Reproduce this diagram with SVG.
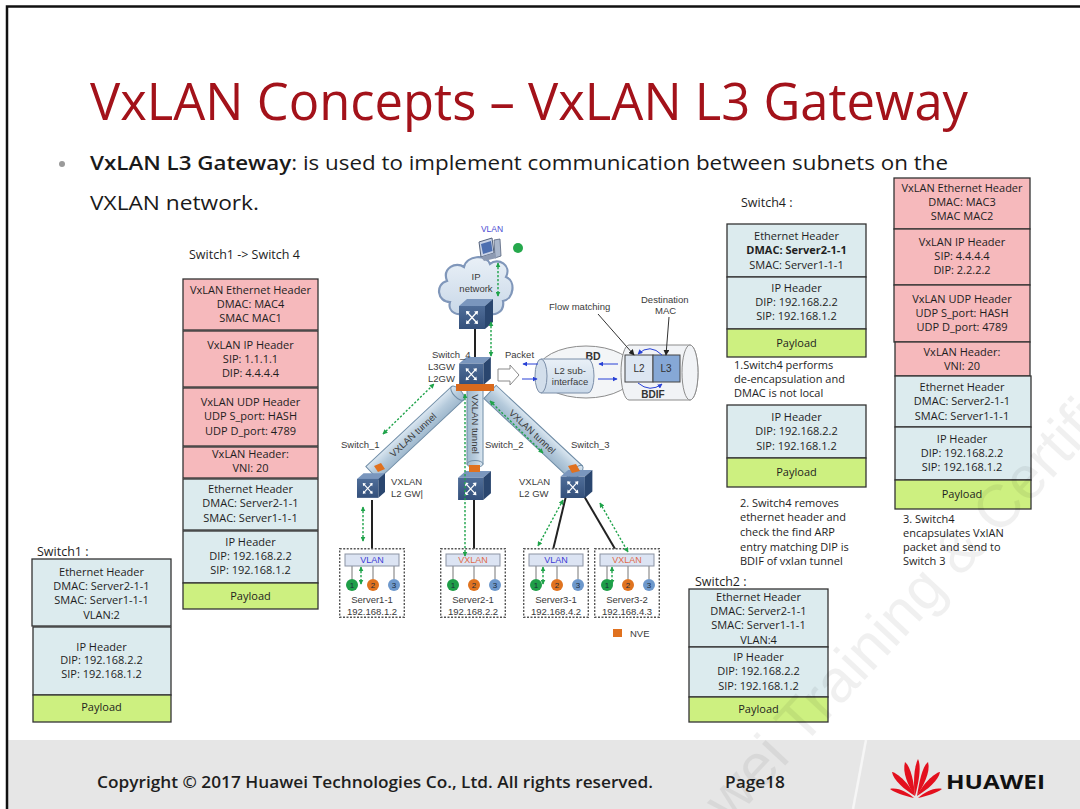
<svg xmlns="http://www.w3.org/2000/svg" width="1080" height="809" viewBox="0 0 1080 809">
  <defs>
    <style>
      .bx { font-family: "Open Sans", "Noto Sans", "DejaVu Sans", sans-serif; font-size: 11px; fill: #1e1e1e; text-anchor: middle; }
      .pk { fill: #f6b9bc; stroke: #333; stroke-width: 1.3; }
      .bl { fill: #dcebee; stroke: #333; stroke-width: 1.3; }
      .gr { fill: #cdf080; stroke: #333; stroke-width: 1.3; }
      .cap { font-family: "Open Sans", "Noto Sans", sans-serif; font-size: 12.5px; fill: #1e1e1e; }
      .note { font-family: "Open Sans", "Noto Sans", sans-serif; font-size: 11px; fill: #1e1e1e; }
      .lb { font-family: "Liberation Sans", Arial, sans-serif; font-size: 9.5px; fill: #3a3a3a; }
      .gd { stroke: #1fa34a; stroke-width: 1.4; stroke-dasharray: 2.2 1.8; fill: none; marker-start: url(#ga); marker-end: url(#ga); }
      .tun { fill: url(#tg); stroke: #6f8ca6; stroke-width: 1; }
      .srv { fill: #fff; stroke: #555; stroke-width: 1.4; stroke-dasharray: 2 1.5; }
      .bar { fill: #dce4f3; stroke: #8b93a3; stroke-width: 1; }
      .blu { stroke: #2841d6; stroke-width: 1; fill: none; marker-end: url(#ba); }
    </style>
    <marker id="ga" viewBox="0 0 8 8" refX="7" refY="4" markerWidth="5" markerHeight="5" orient="auto-start-reverse" markerUnits="userSpaceOnUse">
      <path d="M0,0 L8,4 L0,8 z" fill="#1fa34a"/>
    </marker>
    <marker id="ba" viewBox="0 0 8 8" refX="7" refY="4" markerWidth="5" markerHeight="5" orient="auto" markerUnits="userSpaceOnUse">
      <path d="M0,0 L8,4 L0,8 z" fill="#2841d6"/>
    </marker>
    <marker id="ka" viewBox="0 0 8 8" refX="7" refY="4" markerWidth="6" markerHeight="6" orient="auto" markerUnits="userSpaceOnUse">
      <path d="M0,0 L8,4 L0,8 z" fill="#222"/>
    </marker>
    <linearGradient id="tg" x1="0" y1="0" x2="0" y2="1">
      <stop offset="0" stop-color="#dbe7f1"/>
      <stop offset="0.5" stop-color="#b6cbdc"/>
      <stop offset="1" stop-color="#9fb8cd"/>
    </linearGradient>
    <linearGradient id="cg" x1="0" y1="0" x2="0" y2="1">
      <stop offset="0" stop-color="#e9f0f7"/>
      <stop offset="1" stop-color="#c9d8e8"/>
    </linearGradient>
    <linearGradient id="fg" x1="0" y1="0" x2="0" y2="1">
      <stop offset="0" stop-color="#4f6d98"/>
      <stop offset="1" stop-color="#34507b"/>
    </linearGradient>
    <!-- switch cube -->
    <symbol id="sw" viewBox="0 0 34 30">
      <polygon points="0,7 8,0 34,0 26,7" fill="#7a96bd"/>
      <rect x="0" y="7" width="26" height="23" fill="url(#fg)"/>
      <polygon points="26,7 34,0 34,23 26,30" fill="#2a466f"/>
      <g stroke="#fff" stroke-width="1.3" stroke-linecap="round">
        <path d="M8,13 L18,24 M18,13 L8,24"/>
      </g>
      <g fill="#fff">
        <path d="M7,12 L11,12.5 L7.5,16 z"/>
        <path d="M19,25 L15,24.5 L18.5,21 z"/>
        <path d="M19,12 L18.5,16 L15,12.5 z"/>
        <path d="M7,25 L7.5,21 L11,24.5 z"/>
      </g>
    </symbol>
    <!-- server box with three ports -->
    <symbol id="ports" viewBox="0 0 66 70">
      <rect class="srv" x="0.7" y="0.7" width="64.6" height="68.6"/>
      <path d="M13,18 V31 M34,18 V31 M55,18 V31" stroke="#777" stroke-width="1"/>
      <circle cx="13" cy="37" r="6" fill="#1f9e48"/>
      <circle cx="34" cy="37" r="6" fill="#e0731f"/>
      <circle cx="55" cy="37" r="6" fill="#6d98cc"/>
      <g font-family="Liberation Sans, Arial, sans-serif" font-size="8" fill="#1c2a3a" text-anchor="middle">
        <text x="13" y="40">1</text><text x="34" y="40">2</text><text x="55" y="40">3</text>
      </g>
    </symbol>
  </defs>

  <!-- slide background and frame -->
  <rect x="0" y="0" width="1080" height="809" fill="#fff"/>
  <rect x="7" y="740" width="1073" height="69" fill="#e6e6e6"/>
  <path d="M866,740 L853,809" stroke="#f6f6f6" stroke-width="2.5"/>
  <path d="M7,809 V6.5 H1080" fill="none" stroke="#111" stroke-width="2.5"/>

  <!-- title and bullet -->
  <g id="title">
    <text x="90" y="120" font-family="Open Sans, Noto Sans, sans-serif" font-size="51" fill="#a3121a" textLength="878" lengthAdjust="spacingAndGlyphs">VxLAN Concepts – VxLAN L3 Gateway</text>
    <circle cx="62" cy="164" r="3" fill="#9a9a9a"/>
    <text x="90" y="170" font-family="Open Sans, Noto Sans, sans-serif" font-size="20" fill="#1a1a1a" textLength="858" lengthAdjust="spacingAndGlyphs"><tspan font-weight="600">VxLAN L3 Gateway</tspan>: is used to implement communication between subnets on the</text>
    <text x="90" y="210" font-family="Open Sans, Noto Sans, sans-serif" font-size="20" fill="#1a1a1a" textLength="169" lengthAdjust="spacingAndGlyphs">VXLAN network.</text>
  </g>

  <!-- packet: Switch1 -> Switch 4 -->
  <g id="pkt-s1-s4">
    <text class="cap" x="189" y="259">Switch1 -&gt; Switch 4</text>
    <rect class="pk" x="183" y="279" width="135" height="51"/>
    <rect class="pk" x="183" y="331" width="135" height="56"/>
    <rect class="pk" x="183" y="388" width="135" height="58"/>
    <rect class="pk" x="183" y="447" width="135" height="31"/>
    <rect class="bl" x="183" y="479" width="135" height="51"/>
    <rect class="bl" x="183" y="531" width="135" height="52"/>
    <rect class="gr" x="183" y="583" width="135" height="26"/>
    <text class="bx" x="250.5" y="294">VxLAN Ethernet Header</text>
    <text class="bx" x="250.5" y="308">DMAC: MAC4</text>
    <text class="bx" x="250.5" y="322">SMAC MAC1</text>
    <text class="bx" x="250.5" y="349">VxLAN IP Header</text>
    <text class="bx" x="250.5" y="363">SIP: 1.1.1.1</text>
    <text class="bx" x="250.5" y="377">DIP: 4.4.4.4</text>
    <text class="bx" x="250.5" y="406">VxLAN UDP Header</text>
    <text class="bx" x="250.5" y="420">UDP S_port: HASH</text>
    <text class="bx" x="250.5" y="435">UDP D_port: 4789</text>
    <text class="bx" x="250.5" y="458">VxLAN Header:</text>
    <text class="bx" x="250.5" y="472">VNI: 20</text>
    <text class="bx" x="250.5" y="493">Ethernet Header</text>
    <text class="bx" x="250.5" y="507">DMAC: Server2-1-1</text>
    <text class="bx" x="250.5" y="522">SMAC: Server1-1-1</text>
    <text class="bx" x="250.5" y="546">IP Header</text>
    <text class="bx" x="250.5" y="560">DIP: 192.168.2.2</text>
    <text class="bx" x="250.5" y="574">SIP: 192.168.1.2</text>
    <text class="bx" x="250.5" y="600">Payload</text>
  </g>

  <!-- packet at Switch1 -->
  <g id="pkt-s1">
    <text class="cap" x="37" y="556">Switch1 :</text>
    <rect class="bl" x="32" y="559" width="139" height="67"/>
    <rect class="bl" x="33" y="627" width="138" height="68"/>
    <rect class="gr" x="33" y="695" width="138" height="27"/>
    <text class="bx" x="101.5" y="576">Ethernet Header</text>
    <text class="bx" x="101.5" y="590">DMAC: Server2-1-1</text>
    <text class="bx" x="101.5" y="604">SMAC: Server1-1-1</text>
    <text class="bx" x="101.5" y="619">VLAN:2</text>
    <text class="bx" x="101.5" y="651">IP Header</text>
    <text class="bx" x="101.5" y="664">DIP: 192.168.2.2</text>
    <text class="bx" x="101.5" y="678">SIP: 192.168.1.2</text>
    <text class="bx" x="101.5" y="711">Payload</text>
  </g>

  <!-- packet at Switch4 -->
  <g id="pkt-s4">
    <text class="cap" x="741" y="207">Switch4 :</text>
    <rect class="bl" x="727" y="224" width="139" height="53"/>
    <rect class="bl" x="727" y="277" width="139" height="52"/>
    <rect class="gr" x="727" y="329" width="139" height="28"/>
    <text class="bx" x="796.5" y="240">Ethernet Header</text>
    <text class="bx" x="796.5" y="254" font-weight="bold">DMAC: Server2-1-1</text>
    <text class="bx" x="796.5" y="269">SMAC: Server1-1-1</text>
    <text class="bx" x="796.5" y="292">IP Header</text>
    <text class="bx" x="796.5" y="306">DIP: 192.168.2.2</text>
    <text class="bx" x="796.5" y="320">SIP: 192.168.1.2</text>
    <text class="bx" x="796.5" y="347">Payload</text>
    <text class="note" x="734" y="369">1.Switch4  performs</text>
    <text class="note" x="734" y="383">de-encapsulation and</text>
    <text class="note" x="734" y="397">DMAC is not local</text>
    <rect class="bl" x="727" y="405" width="139" height="53"/>
    <rect class="gr" x="727" y="458" width="139" height="29"/>
    <text class="bx" x="796.5" y="421">IP Header</text>
    <text class="bx" x="796.5" y="435">DIP: 192.168.2.2</text>
    <text class="bx" x="796.5" y="450">SIP: 192.168.1.2</text>
    <text class="bx" x="796.5" y="476">Payload</text>
    <text class="note" x="740" y="507">2. Switch4  removes</text>
    <text class="note" x="740" y="521">ethernet header and</text>
    <text class="note" x="740" y="536">check the find ARP</text>
    <text class="note" x="740" y="551">entry matching DIP is</text>
    <text class="note" x="740" y="565">BDIF of vxlan tunnel</text>
  </g>

  <!-- packet Switch4 -> Switch 3 -->
  <g id="pkt-s4-s3">
    <rect class="pk" x="894" y="178" width="136" height="51"/>
    <rect class="pk" x="894" y="229" width="136" height="56"/>
    <rect class="pk" x="894" y="285" width="136" height="57"/>
    <rect class="pk" x="895" y="342" width="135" height="34"/>
    <rect class="bl" x="895" y="376" width="136" height="51"/>
    <rect class="bl" x="895" y="427" width="136" height="53"/>
    <rect class="gr" x="895" y="480" width="136" height="29"/>
    <text class="bx" x="962" y="192">VxLAN Ethernet Header</text>
    <text class="bx" x="962" y="206">DMAC: MAC3</text>
    <text class="bx" x="962" y="220">SMAC MAC2</text>
    <text class="bx" x="962" y="246">VxLAN IP Header</text>
    <text class="bx" x="962" y="260">SIP: 4.4.4.4</text>
    <text class="bx" x="962" y="274">DIP: 2.2.2.2</text>
    <text class="bx" x="962" y="303">VxLAN UDP Header</text>
    <text class="bx" x="962" y="317">UDP S_port: HASH</text>
    <text class="bx" x="962" y="331">UDP D_port: 4789</text>
    <text class="bx" x="962" y="356">VxLAN Header:</text>
    <text class="bx" x="962" y="370">VNI: 20</text>
    <text class="bx" x="962" y="391">Ethernet Header</text>
    <text class="bx" x="962" y="405">DMAC: Server2-1-1</text>
    <text class="bx" x="962" y="420">SMAC: Server1-1-1</text>
    <text class="bx" x="962" y="443">IP Header</text>
    <text class="bx" x="962" y="457">DIP: 192.168.2.2</text>
    <text class="bx" x="962" y="471">SIP: 192.168.1.2</text>
    <text class="bx" x="962" y="498">Payload</text>
    <text class="note" x="903" y="523">3. Switch4</text>
    <text class="note" x="903" y="537">encapsulates VxIAN</text>
    <text class="note" x="903" y="551">packet and send to</text>
    <text class="note" x="903" y="565">Switch 3</text>
  </g>

  <!-- packet at Switch2 -->
  <g id="pkt-s2">
    <text class="cap" x="695" y="586">Switch2 :</text>
    <rect class="bl" x="689" y="589" width="139" height="58"/>
    <rect class="bl" x="689" y="647" width="139" height="50"/>
    <rect class="gr" x="689" y="697" width="139" height="25"/>
    <text class="bx" x="758.5" y="601">Ethernet Header</text>
    <text class="bx" x="758.5" y="615">DMAC: Server2-1-1</text>
    <text class="bx" x="758.5" y="629">SMAC: Server1-1-1</text>
    <text class="bx" x="758.5" y="644">VLAN:4</text>
    <text class="bx" x="758.5" y="661">IP Header</text>
    <text class="bx" x="758.5" y="675">DIP: 192.168.2.2</text>
    <text class="bx" x="758.5" y="690">SIP: 192.168.1.2</text>
    <text class="bx" x="758.5" y="713">Payload</text>
  </g>

  <!-- VXLAN tunnels -->
  <g id="tunnels">
    <g transform="translate(372,473) rotate(-43)">
      <rect class="tun" x="0" y="-9" width="117" height="18"/>
      <ellipse class="tun" cx="117" cy="0" rx="4" ry="9"/>
      <text class="lb" x="56" y="3.5" text-anchor="middle">VXLAN tunnel</text>
    </g>
    <g transform="translate(475,390) rotate(90)">
      <rect class="tun" x="0" y="-8" width="74" height="16"/>
      <ellipse class="tun" cx="74" cy="0" rx="3.5" ry="8"/>
      <text class="lb" x="34" y="3.5" text-anchor="middle">VXLAN tunnel</text>
    </g>
    <g transform="translate(490,392) rotate(43)">
      <rect class="tun" x="0" y="-9" width="118" height="18"/>
      <ellipse class="tun" cx="118" cy="0" rx="4" ry="9"/>
      <text class="lb" x="58" y="3.5" text-anchor="middle">VXLAN tunnel</text>
    </g>
  </g>

  <!-- wired links -->
  <g id="links" stroke="#222" stroke-width="2" fill="none">
    <path d="M475,328 V360"/>
    <path d="M372,500 V554"/>
    <path d="M474,500 V554"/>
    <path d="M566,496 L552,554"/>
    <path d="M584,496 L618,554"/>
  </g>

  <!-- IP network cloud and VLAN host -->
  <g id="ip-network">
    <path d="M450,302 C437,302 435,284 447,281 C442,268 456,261 464,267 C467,255 486,254 490,264 C498,257 512,265 506,277 C516,281 514,299 503,301 C505,313 492,318 486,311 L466,311 C459,318 447,312 450,302 z" fill="url(#cg)" stroke="#8097ba" stroke-width="2.2"/>
    <text class="lb" x="476" y="280" text-anchor="middle">IP</text>
    <text class="lb" x="476" y="292" text-anchor="middle">network</text>
  </g>
  <g id="vlan-host">
    <text x="492" y="232" font-family="Liberation Sans, Arial, sans-serif" font-size="8.5" fill="#4a4ad2" text-anchor="middle">VLAN</text>
    <polygon points="479,242 492,238 494,253 481,257" fill="#c9d3e6" stroke="#55637c" stroke-width="1"/>
    <polygon points="481,244 491,241 492.5,251 483,254" fill="#4d6fb0"/>
    <polygon points="494,240 500,239 501,256 495,258" fill="#aab7cc" stroke="#55637c" stroke-width="0.8"/>
    <polygon points="481,257 494,253 497,258 484,261" fill="#8d9ab2"/>
    <circle cx="518" cy="248" r="5" fill="#25a84c"/>
  </g>

  <!-- switches -->
  <g id="switch-core"><use href="#sw" x="459" y="299" width="34" height="30"/></g>
  <g id="switch-4">
    <use href="#sw" x="458" y="357" width="34" height="28"/>
    <polygon points="456,384 494,384 494,391 456,391" fill="#d96a1e"/>
    <text class="lb" x="432" y="358">Switch_4</text>
    <text class="lb" x="428" y="370">L3GW</text>
    <text class="lb" x="428" y="382">L2GW</text>
  </g>
  <g id="switch-1">
    <use href="#sw" x="357" y="471" width="28" height="29"/>
    <polygon points="374,466 381,463 385,469 378,472" fill="#e0711f"/>
    <text class="lb" x="341" y="448">Switch_1</text>
    <text class="lb" x="391" y="485">VXLAN</text>
    <text class="lb" x="391" y="497">L2 GW|</text>
  </g>
  <g id="switch-2">
    <use href="#sw" x="458" y="471" width="33" height="29"/>
    <rect x="469" y="465" width="11" height="7" fill="#e0711f"/>
    <text class="lb" x="485" y="448">Switch_2</text>
  </g>
  <g id="switch-3">
    <use href="#sw" x="560" y="470" width="33" height="28"/>
    <polygon points="568,466 576,464 580,471 572,473" fill="#e0711f"/>
    <text class="lb" x="571" y="448">Switch_3</text>
    <text class="lb" x="519" y="485">VXLAN</text>
    <text class="lb" x="519" y="497">L2 GW</text>
  </g>

  <!-- servers -->
  <g id="server1-1">
    <use href="#ports" x="339" y="548" width="66" height="70"/>
    <rect class="bar" x="345" y="554" width="54" height="12"/>
    <text x="372" y="563" font-family="Liberation Sans, Arial, sans-serif" font-size="9" fill="#3b3bd6" text-anchor="middle">VLAN</text>
    <text class="lb" x="372" y="603" text-anchor="middle">Server1-1</text>
    <text class="lb" x="372" y="615" text-anchor="middle">192.168.1.2</text>
  </g>
  <g id="server2-1">
    <use href="#ports" x="440" y="548" width="66" height="70"/>
    <rect class="bar" x="446" y="554" width="54" height="12"/>
    <text x="473" y="563" font-family="Liberation Sans, Arial, sans-serif" font-size="9" fill="#e06a4a" text-anchor="middle">VXLAN</text>
    <text class="lb" x="473" y="603" text-anchor="middle">Server2-1</text>
    <text class="lb" x="473" y="615" text-anchor="middle">192.168.2.2</text>
  </g>
  <g id="server3-1">
    <use href="#ports" x="523" y="548" width="66" height="70"/>
    <rect class="bar" x="529" y="554" width="54" height="12"/>
    <text x="556" y="563" font-family="Liberation Sans, Arial, sans-serif" font-size="9" fill="#3b3bd6" text-anchor="middle">VLAN</text>
    <text class="lb" x="556" y="603" text-anchor="middle">Server3-1</text>
    <text class="lb" x="556" y="615" text-anchor="middle">192.168.4.2</text>
  </g>
  <g id="server3-2">
    <use href="#ports" x="594" y="548" width="66" height="70"/>
    <rect class="bar" x="600" y="554" width="54" height="12"/>
    <text x="627" y="563" font-family="Liberation Sans, Arial, sans-serif" font-size="9" fill="#e06a4a" text-anchor="middle">VXLAN</text>
    <text class="lb" x="627" y="603" text-anchor="middle">Server3-2</text>
    <text class="lb" x="627" y="615" text-anchor="middle">192.168.4.3</text>
  </g>

  <!-- BD / BDIF detail -->
  <g id="bd-detail">
    <text class="lb" x="505" y="358">Packet</text>
    <path d="M498,369 H510 V365 L519,375 L510,385 V381 H498 z" fill="#fff" stroke="#8a8a8a" stroke-width="1"/>
    <ellipse cx="586" cy="372" rx="49" ry="26" fill="#f3f5f7" stroke="#8c8c8c" stroke-width="1"/>
    <text x="593" y="360" font-family="Liberation Sans, Arial, sans-serif" font-size="10.5" font-weight="bold" fill="#333" text-anchor="middle">BD</text>
    <path d="M541,359 H588 A6,17 0 0 1 588,393 H541 z" fill="url(#cg)" stroke="#7b8ea8" stroke-width="1"/>
    <ellipse cx="541" cy="376" rx="6" ry="17" fill="#d2deeb" stroke="#7b8ea8" stroke-width="1"/>
    <text class="lb" x="570" y="374" text-anchor="middle">L2 sub-</text>
    <text class="lb" x="570" y="385" text-anchor="middle">interface</text>
    <path d="M629,345 H690 A8,27.5 0 0 1 690,400 H629 A8,27.5 0 0 1 629,345 z" fill="#f1f3f6" stroke="#8c8c8c" stroke-width="1"/>
    <ellipse cx="690" cy="372.5" rx="8" ry="27.5" fill="#f1f3f6" stroke="#8c8c8c" stroke-width="1"/>
    <rect x="625" y="355" width="28" height="27" fill="#dde6f2" stroke="#444" stroke-width="1"/>
    <rect x="653" y="355" width="27" height="27" fill="#86a8d6" stroke="#444" stroke-width="1"/>
    <text x="639" y="372" font-family="Liberation Sans, Arial, sans-serif" font-size="10" fill="#333" text-anchor="middle">L2</text>
    <text x="666" y="372" font-family="Liberation Sans, Arial, sans-serif" font-size="10" fill="#333" text-anchor="middle">L3</text>
    <text x="653" y="398" font-family="Liberation Sans, Arial, sans-serif" font-size="10" font-weight="bold" fill="#333" text-anchor="middle">BDIF</text>
    <text class="lb" x="549" y="310">Flow matching</text>
    <text class="lb" x="641" y="303">Destination</text>
    <text class="lb" x="655" y="314">MAC</text>
    <path d="M598,314 L634,355" stroke="#333" stroke-width="1" fill="none" marker-end="url(#ka)"/>
    <path d="M669,317 L666,355" stroke="#333" stroke-width="1" fill="none" marker-end="url(#ka)"/>
    <path d="M662,355 Q650,343 638,354" class="blu"/>
    <path d="M638,383 Q650,393 662,384" class="blu"/>
    <path d="M538,364 H523" class="blu"/>
    <path d="M522,379 H537" class="blu"/>
    <path d="M618,364 H599" class="blu"/>
    <path d="M598,379 H617" class="blu"/>
  </g>

  <!-- traffic flow (green dotted) -->
  <g id="connectors">
    <path class="gd" d="M498,263 V296"/>
    <path class="gd" d="M491,322 V356"/>
    <path class="gd" d="M383,434 L434,384"/>
    <path class="gd" d="M465,394 V556"/>
    <path class="gd" d="M490,401 L543,453"/>
    <path class="gd" d="M363,507 V541"/>
    <path class="gd" d="M563,500 L538,546"/>
    <path class="gd" d="M600,503 L628,552"/>
    <path class="gd" d="M361,567 V584"/>
    <path class="gd" d="M543,567 V584"/>
    <path class="gd" d="M612,567 V584"/>
  </g>

  <!-- legend -->
  <g id="legend">
    <rect x="613" y="629" width="9" height="8" fill="#e0711f"/>
    <text class="lb" x="630" y="637">NVE</text>
  </g>

  <!-- watermark -->
  <text transform="translate(655,905) rotate(-47)" font-family="Liberation Sans, Arial, sans-serif" font-size="60" fill="#000" opacity="0.055">Huawei Training &amp; Certification</text>

  <!-- footer -->
  <g id="footer">
    <text x="97" y="788" font-family="Open Sans, Noto Sans, sans-serif" font-size="15.5" font-weight="600" fill="#1e1e1e" textLength="556" lengthAdjust="spacingAndGlyphs">Copyright © 2017 Huawei Technologies Co., Ltd. All rights reserved.</text>
    <text x="725" y="788" font-family="Open Sans, Noto Sans, sans-serif" font-size="15.5" font-weight="600" fill="#1e1e1e" textLength="60" lengthAdjust="spacingAndGlyphs">Page18</text>
    <g fill="#e3101e">
      <path d="M915,796 C905,790 893,780 892,772 C898,773 910,785 915,796 z"/>
      <path d="M915,796 C908,786 902,772 905,762 C911,767 914,783 915,796 z"/>
      <path d="M915,796 C913,783 914,767 918,759 C922,767 918,785 915,796 z"/>
      <path d="M917,796 C919,783 922,767 928,762 C931,772 923,786 917,796 z"/>
      <path d="M917,796 C922,785 934,773 940,772 C939,780 927,790 917,796 z"/>
      <path d="M914,798 C905,796 895,793 890,789 C898,787 908,793 914,798 z"/>
      <path d="M918,798 C927,796 937,793 942,789 C934,787 924,793 918,798 z"/>
    </g>
    <text x="946" y="789" font-family="Open Sans, Noto Sans, sans-serif" font-size="19" font-weight="bold" fill="#111" textLength="99" lengthAdjust="spacingAndGlyphs">HUAWEI</text>
  </g>
</svg>
